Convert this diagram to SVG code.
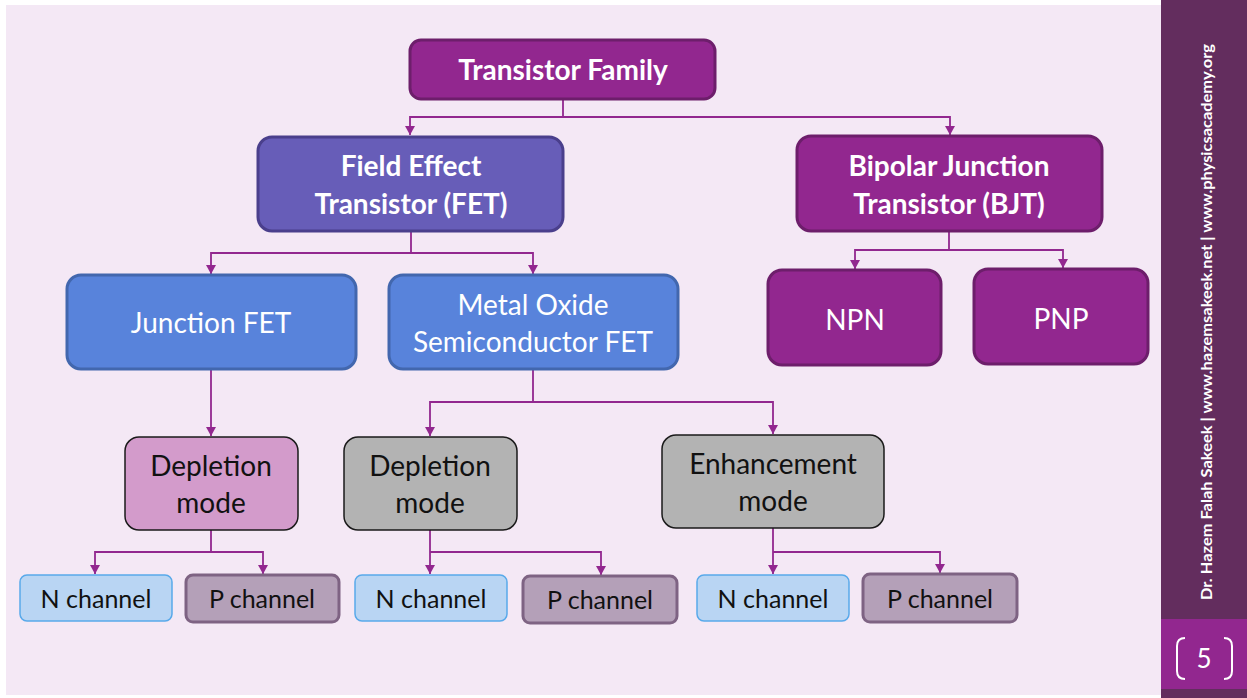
<svg xmlns="http://www.w3.org/2000/svg" width="1247" height="698" viewBox="0 0 1247 698">
<defs>
<marker id="ah" markerWidth="9" markerHeight="10" refX="9" refY="5" orient="auto" markerUnits="userSpaceOnUse" viewBox="0 0 9 10">
<path d="M0,0 L9,5 L0,10 Z" fill="#92278F"/>
</marker>
<style>
text{font-family:Lato,"Open Sans","Liberation Sans",sans-serif;text-anchor:middle;}
.tb{font-weight:bold;fill:#fff;font-size:28px;}
.tw{fill:#fff;font-size:28px;}
.tk{fill:#111;font-size:28px;}
.ts{fill:#111;font-size:25px;}
.purple{fill:#92278F;stroke:#6D1E6B;stroke-width:3;}
.fet{fill:#675DB8;stroke:#4A3F8C;stroke-width:3;}
.blue{fill:#5883DB;stroke:#4267AE;stroke-width:3;}
.pink{fill:#D39BCB;stroke:#1A1A1A;stroke-width:1.5;}
.gray{fill:#B3B3B3;stroke:#1A1A1A;stroke-width:1.5;}
.nch{fill:#B9D5F3;stroke:#58A9EA;stroke-width:1.5;}
.pch{fill:#B4A0B8;stroke:#7E6383;stroke-width:3;}
.c{fill:none;stroke:#92278F;stroke-width:1.8;}
</style>
</defs>
<rect x="0" y="0" width="1247" height="698" fill="#ffffff"/>
<rect x="6" y="5" width="1155" height="690" fill="#F4E8F5"/>
<rect x="1161" y="0" width="86" height="698" fill="#632D5E"/>
<rect x="1161" y="619" width="86" height="70" fill="#92278F"/>
<text transform="translate(1212,322) rotate(-90)" style="font-weight:bold;fill:#fff;font-size:14.5px" textLength="556" lengthAdjust="spacingAndGlyphs">Dr. Hazem Falah Sakeek | www.hazemsakeek.net | www.physicsacademy.org</text>
<path d="M1185,638 Q1177,638 1177,646 L1177,671 Q1177,679 1185,679" fill="none" stroke="#fff" stroke-width="2"/>
<path d="M1224,638 Q1232,638 1232,646 L1232,671 Q1232,679 1224,679" fill="none" stroke="#fff" stroke-width="2"/>
<text x="1204" y="668" style="fill:#fff;font-size:26px">5</text>

<g id="connectors">
<path class="c" d="M563,99 V117 H410 V135" marker-end="url(#ah)"/>
<path class="c" d="M563,117 H950 V135" marker-end="url(#ah)"/>
<path class="c" d="M411,231 V253 H211 V274" marker-end="url(#ah)"/>
<path class="c" d="M411,253 H533 V274" marker-end="url(#ah)"/>
<path class="c" d="M949,231 V250 H855 V269" marker-end="url(#ah)"/>
<path class="c" d="M949,250 H1063 V268" marker-end="url(#ah)"/>
<path class="c" d="M211,369 V436" marker-end="url(#ah)"/>
<path class="c" d="M533,369 V402 H430 V436" marker-end="url(#ah)"/>
<path class="c" d="M533,402 H773 V434" marker-end="url(#ah)"/>
<path class="c" d="M211,530 V552 H95 V574" marker-end="url(#ah)"/>
<path class="c" d="M211,552 H263 V574" marker-end="url(#ah)"/>
<path class="c" d="M430,530 V574" marker-end="url(#ah)"/>
<path class="c" d="M430,552 H601 V575" marker-end="url(#ah)"/>
<path class="c" d="M773,528 V574" marker-end="url(#ah)"/>
<path class="c" d="M773,552 H940 V573" marker-end="url(#ah)"/>
</g>

<g id="n-family"><rect class="purple" x="410" y="40" width="305" height="59" rx="11"/><text class="tb" x="563" y="80">Transistor Family</text></g>
<g id="n-fet"><rect class="fet" x="258" y="137" width="305" height="94" rx="14"/><text class="tb" x="411" y="176">Field Effect</text><text class="tb" x="411" y="214">Transistor (FET)</text></g>
<g id="n-bjt"><rect class="purple" x="797" y="136" width="305" height="95" rx="14"/><text class="tb" x="949" y="176">Bipolar Junction</text><text class="tb" x="949" y="214">Transistor (BJT)</text></g>
<g id="n-jfet"><rect class="blue" x="67" y="275" width="289" height="94" rx="14"/><text class="tw" x="211" y="333">Junction FET</text></g>
<g id="n-mosfet"><rect class="blue" x="389" y="275" width="289" height="94" rx="14"/><text class="tw" x="533" y="315">Metal Oxide</text><text class="tw" x="533" y="352">Semiconductor FET</text></g>
<g id="n-npn"><rect class="purple" x="768" y="270" width="173" height="95" rx="14"/><text class="tw" x="855" y="330">NPN</text></g>
<g id="n-pnp"><rect class="purple" x="974" y="269" width="174" height="95" rx="14"/><text class="tw" x="1061" y="329">PNP</text></g>
<g id="n-jdep"><rect class="pink" x="125" y="437" width="173" height="93" rx="14"/><text class="tk" x="211" y="476">Depletion</text><text class="tk" x="211" y="513">mode</text></g>
<g id="n-mdep"><rect class="gray" x="344" y="437" width="173" height="93" rx="14"/><text class="tk" x="430" y="476">Depletion</text><text class="tk" x="430" y="513">mode</text></g>
<g id="n-menh"><rect class="gray" x="662" y="435" width="222" height="93" rx="14"/><text class="tk" x="773" y="474">Enhancement</text><text class="tk" x="773" y="511">mode</text></g>
<g id="n-n1"><rect class="nch" x="20" y="575" width="152" height="46" rx="7"/><text class="ts" x="96" y="608">N channel</text></g>
<g id="n-p1"><rect class="pch" x="186" y="575" width="153" height="47" rx="7"/><text class="ts" x="262" y="608">P channel</text></g>
<g id="n-n2"><rect class="nch" x="355" y="575" width="152" height="46" rx="7"/><text class="ts" x="431" y="608">N channel</text></g>
<g id="n-p2"><rect class="pch" x="523" y="576" width="154" height="47" rx="7"/><text class="ts" x="600" y="609">P channel</text></g>
<g id="n-n3"><rect class="nch" x="697" y="575" width="152" height="46" rx="7"/><text class="ts" x="773" y="608">N channel</text></g>
<g id="n-p3"><rect class="pch" x="863" y="574" width="154" height="48" rx="7"/><text class="ts" x="940" y="608">P channel</text></g>
</svg>
